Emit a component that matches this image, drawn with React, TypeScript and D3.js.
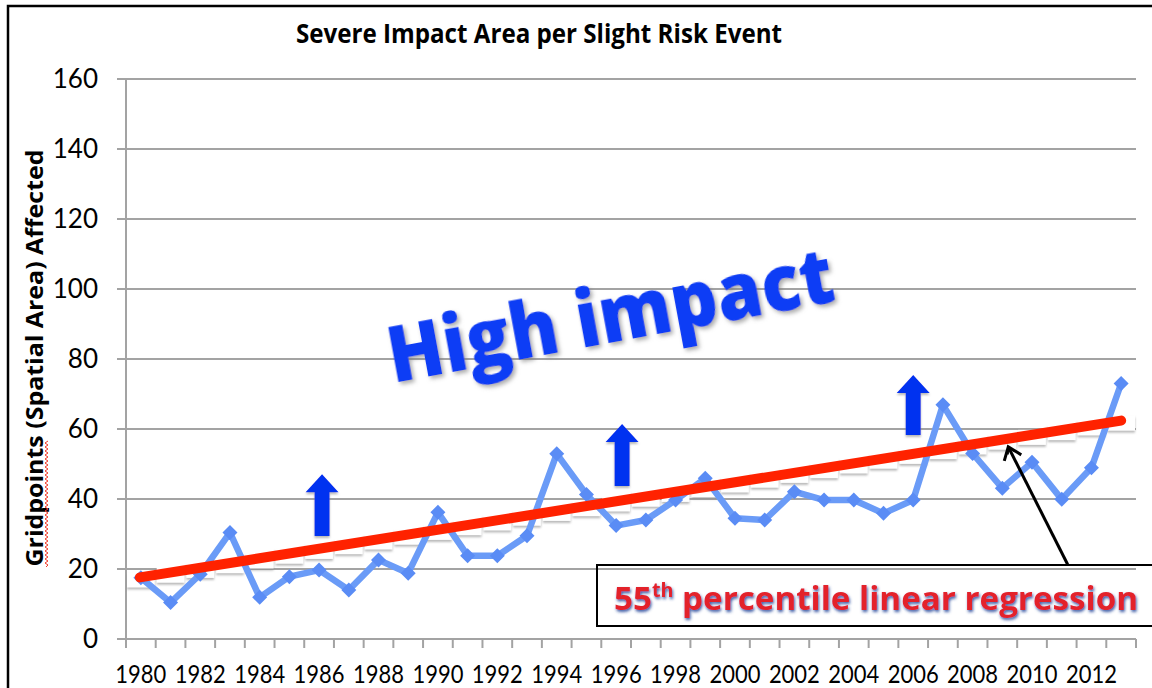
import React from "react";
import * as d3 from "d3";

const years: number[] = d3.range(1980, 2014);
const values: number[] = [
  17.5, 10.4, 18.5, 30.4, 11.9, 17.8, 19.7, 14.0, 22.6, 18.8,
  36.2, 23.8, 23.8, 29.5, 52.9, 41.3, 32.4, 34.0, 39.7, 45.9,
  34.5, 34.0, 42.1, 39.7, 39.7, 35.9, 39.7, 66.9, 53.0, 43.1,
  50.5, 39.9, 48.9, 73.0,
];
const regressionYears: number[] = [1980, 2013];
const regressionValues: number[] = [17.6, 62.4];
const yTicks: number[] = [0, 20, 40, 60, 80, 100, 120, 140, 160];
const xLabelYears: number[] = d3.range(1980, 2013, 2);
// blue "up" arrows: [year, base value, tip value]
const upArrows: [number, number, number][] = [
  [1986.1, 29.4, 47.1],
  [1996.2, 43.7, 61.4],
  [2006.0, 58.3, 75.4],
];
// black pointer arrow: tail and tip as [year, value]
const pointerTail: [number, number] = [2011.2, 21.3];
const pointerTip: [number, number] = [2009.2, 54.9];

const TITLE = "Severe Impact Area per Slight Risk Event";
const Y_TITLE_A = "Gridpoints";
const Y_TITLE_B = " (Spatial Area) Affected";

export default function App() {
  const W = 1152;
  const H = 688;
  const x = d3.scaleLinear().domain([1979.5, 2013.5]).range([126, 1136]);
  const y = d3.scaleLinear().domain([0, 160]).range([639, 79]);
  const pts = years.map((yr, i) => [x(yr), y(values[i])] as [number, number]);
  const line = d3.line()(pts) || "";
  const reg = d3.scaleLinear().domain(regressionYears).range(regressionValues);
  const font = "Lato, 'Open Sans', sans-serif";
  const bold = "'Open Sans', Lato, sans-serif";

  // wavy spell-check underline
  const sqStart = 567, sqEnd = 440;
  let sq = `M46,${sqStart}`;
  let k = 0;
  for (let yy = sqStart - 2; yy >= sqEnd; yy -= 2) {
    sq += ` L${k % 2 === 0 ? 48 : 45},${yy}`;
    k++;
  }

  const arrowPath = (xc: number, yb: number, yt: number) => {
    const sw = 7.5, hw = 16.5, hl = 18;
    return `M${xc - sw},${yb} L${xc - sw},${yt + hl} L${xc - hw},${yt + hl} L${xc},${yt} L${xc + hw},${yt + hl} L${xc + sw},${yt + hl} L${xc + sw},${yb} Z`;
  };

  return (
    <svg
      width={W}
      height={H}
      style={{ position: "absolute", left: 0, top: 0, background: "#fff" }}
      fontFamily={font}
    >
      <defs>
        <filter id="shadowGray" x="-20%" y="-20%" width="140%" height="160%">
          <feDropShadow dx="2" dy="3" stdDeviation="2" floodColor="#777" floodOpacity="0.6" />
        </filter>
        <filter id="shadowStep" x="-20%" y="-50%" width="140%" height="250%">
          <feDropShadow dx="0" dy="2" stdDeviation="1.2" floodColor="#888" floodOpacity="0.6" />
        </filter>
        <filter id="shadowBlue" x="-5%" y="-30%" width="110%" height="160%">
          <feDropShadow dx="1" dy="2" stdDeviation="1.5" floodColor="#2a4c9c" floodOpacity="0.9" />
        </filter>
        <filter id="soft" x="-5%" y="-5%" width="110%" height="110%">
          <feGaussianBlur stdDeviation="0.6" />
        </filter>
        <marker id="openHead" viewBox="0 0 12 12" refX="10" refY="6" markerWidth="9" markerHeight="9" orient="auto" markerUnits="userSpaceOnUse" overflow="visible">
          <path d="M1,1 L10,6 L1,11" fill="none" stroke="#000" strokeWidth="2.4" />
        </marker>
      </defs>

      {/* outer frame */}
      <rect x={8} y={6} width={1200} height={720} fill="none" stroke="#000" strokeWidth={2.5} />

      {/* title */}
      <text x={539} y={43} textAnchor="middle" fontFamily={bold} fontWeight="bold" fontSize={27} textLength={486} lengthAdjust="spacingAndGlyphs" fill="#000">
        {TITLE}
      </text>

      {/* gridlines + y ticks */}
      {yTicks.map((t) => (
        <g key={t}>
          <line x1={117} x2={1136} y1={y(t)} y2={y(t)} stroke="#a3a3a3" strokeWidth={2} />
          <text x={98} y={y(t)} dy="0.36em" textAnchor="end" fontSize={26} fill="#000">
            {t}
          </text>
        </g>
      ))}
      {/* y axis */}
      <line x1={126} x2={126} y1={y(160)} y2={y(0)} stroke="#a3a3a3" strokeWidth={2} />
      {/* x ticks */}
      {d3.range(1979.5, 2014, 1).map((b) => (
        <line key={b} x1={x(b)} x2={x(b)} y1={y(0)} y2={y(0) + 9} stroke="#a3a3a3" strokeWidth={2} />
      ))}
      {xLabelYears.map((yr) => (
        <text key={yr} x={x(yr)} y={683} textAnchor="middle" fontSize={25} textLength={51} lengthAdjust="spacingAndGlyphs" fill="#000">
          {yr}
        </text>
      ))}

      {/* y axis title */}
      <text transform="translate(43,358) rotate(-90)" textAnchor="middle" fontFamily={bold} fontWeight="bold" fontSize={23} textLength={417} lengthAdjust="spacingAndGlyphs" fill="#000">
        {Y_TITLE_A + Y_TITLE_B}
      </text>
      <path d={sq} fill="none" stroke="#f03a2a" strokeWidth={1} />

      {/* regression shadow steps */}
      {years.map((yr) => (
        <rect
          key={yr}
          x={x(yr - 0.5) + 1}
          y={y(reg(yr)) - 5}
          width={x(1981) - x(1980) - 2}
          height={15}
          fill="#fff"
          filter="url(#shadowStep)"
        />
      ))}

      {/* High impact text */}
      <text
        transform="translate(393,383) rotate(-10.5)"
        fontFamily={bold}
        fontWeight={800}
        fontSize={78}
        textLength={452}
        lengthAdjust="spacingAndGlyphs"
        fill="#0a3cf5"
        filter="url(#shadowGray)"
      >
        High impact
      </text>

      {/* data line */}
      <g filter="url(#soft)">
        <path d={line} fill="none" stroke="#6b9bf7" strokeWidth={6.5} strokeLinejoin="round" />
        {pts.map(([px, py], i) => (
          <path key={i} d={`M${px},${py - 7.5} L${px + 7.5},${py} L${px},${py + 7.5} L${px - 7.5},${py} Z`} fill="#5a8cf5" />
        ))}
      </g>

      {/* regression line */}
      <line
        x1={x(regressionYears[0]) - 1}
        y1={y(regressionValues[0])}
        x2={x(regressionYears[1])}
        y2={y(regressionValues[1])}
        stroke="#ff2200"
        strokeWidth={10}
        strokeLinecap="round"
      />

      {/* blue arrows */}
      {upArrows.map(([yr, b, t], i) => (
        <path key={i} d={arrowPath(x(yr), y(b), y(t))} fill="#0530f0" filter="url(#shadowStep)" />
      ))}

      {/* annotation box */}
      <rect x={597} y={565} width={600} height={61} fill="none" stroke="#000" strokeWidth={2} />
      <text x={614} y={610} fontFamily={bold} fontWeight="bold" fontSize={32} fill="#e3222a" textLength={524} lengthAdjust="spacingAndGlyphs" filter="url(#shadowBlue)">
        55<tspan fontSize={19} dy={-13}>th</tspan>
        <tspan dy={13}> percentile linear regression</tspan>
      </text>

      {/* pointer arrow */}
      <line
        x1={x(pointerTail[0])}
        y1={y(pointerTail[1])}
        x2={x(pointerTip[0])}
        y2={y(pointerTip[1])}
        stroke="#000"
        strokeWidth={3}
        markerEnd="url(#openHead)"
      />
      <path
        d={`M${x(pointerTip[0]) - 4},${y(pointerTip[1]) + 14} L${x(pointerTip[0])},${y(pointerTip[1])} L${x(pointerTip[0]) + 13},${y(pointerTip[1]) + 8}`}
        fill="none"
        stroke="#000"
        strokeWidth={3}
      />
    </svg>
  );
}
